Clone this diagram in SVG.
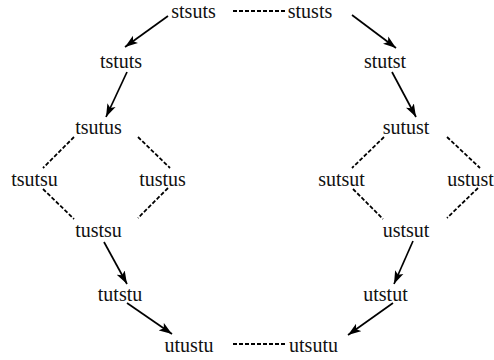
<svg xmlns="http://www.w3.org/2000/svg" width="494" height="360" viewBox="0 0 494 360">
<style>
text{font-size:20px;fill:#111;text-anchor:middle}
.a{stroke:#000;stroke-width:1.7;fill:none;marker-end:url(#ah)}
.d{stroke:#000;stroke-width:1.8;fill:none;stroke-dasharray:4 2}
</style>
<defs>
<marker id="ah" markerUnits="userSpaceOnUse" markerWidth="14" markerHeight="10" viewBox="0 0 14 10" refX="13" refY="5" orient="auto">
<path d="M0,0.5 L13,5 L0,9.5 L3,5 z" fill="#000"/>
</marker>
</defs>
<rect width="494" height="360" fill="#fff"/>
<g id="connectors">
<line class="a" x1="168" y1="16" x2="125" y2="47"/>
<line class="a" x1="352" y1="15" x2="396" y2="48"/>
<line class="a" x1="127" y1="72" x2="106" y2="117"/>
<line class="a" x1="392" y1="72" x2="416" y2="117"/>
<line class="a" x1="104" y1="242" x2="127" y2="284"/>
<line class="a" x1="413" y1="241" x2="394" y2="284"/>
<line class="a" x1="127" y1="303" x2="172" y2="334"/>
<line class="a" x1="393" y1="303" x2="348" y2="335"/>
<line class="d" x1="233" y1="11" x2="287" y2="11"/>
<line class="d" x1="233" y1="344" x2="287" y2="344"/>
<line class="d" x1="74" y1="137" x2="43" y2="168"/>
<line class="d" x1="138" y1="137" x2="170" y2="168"/>
<line class="d" x1="43" y1="189" x2="74" y2="219"/>
<line class="d" x1="168" y1="188" x2="138" y2="218"/>
<line class="d" x1="384" y1="137" x2="352" y2="168"/>
<line class="d" x1="447" y1="137" x2="480" y2="168"/>
<line class="d" x1="353" y1="189" x2="383" y2="219"/>
<line class="d" x1="478" y1="188" x2="447" y2="218"/>
</g>
<g font-family="Liberation Serif, serif">
<g id="n-stsuts"><text x="193.5" y="17.5">stsuts</text></g>
<g id="n-stusts"><text x="310" y="17.5">stusts</text></g>
<g id="n-tstuts"><text x="121" y="68">tstuts</text></g>
<g id="n-stutst"><text x="385" y="68">stutst</text></g>
<g id="n-tsutus"><text x="98.5" y="134">tsutus</text></g>
<g id="n-sutust"><text x="406" y="134">sutust</text></g>
<g id="n-tsutsu"><text x="34.5" y="186">tsutsu</text></g>
<g id="n-tustus"><text x="162.5" y="186">tustus</text></g>
<g id="n-sutsut"><text x="341.5" y="186">sutsut</text></g>
<g id="n-ustust"><text x="470.5" y="186">ustust</text></g>
<g id="n-tustsu"><text x="98.5" y="237">tustsu</text></g>
<g id="n-ustsut"><text x="406" y="237">ustsut</text></g>
<g id="n-tutstu"><text x="120" y="301">tutstu</text></g>
<g id="n-utstut"><text x="385.5" y="301">utstut</text></g>
<g id="n-utustu"><text x="189" y="352">utustu</text></g>
<g id="n-utsutu"><text x="313.5" y="352">utsutu</text></g>
</g>
</svg>
